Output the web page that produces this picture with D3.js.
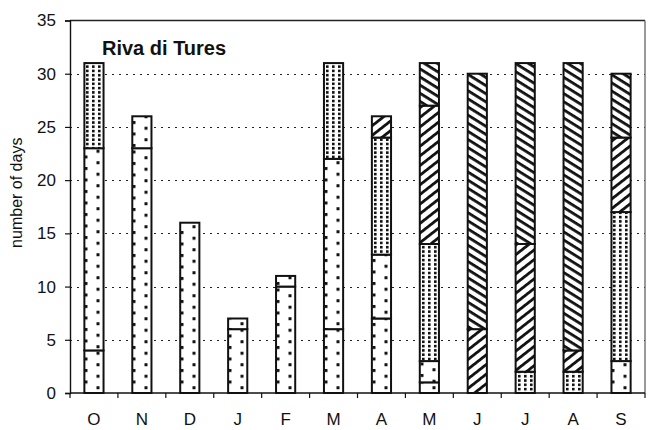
<!DOCTYPE html>
<html>
<head>
<meta charset="utf-8">
<script src="https://cdn.jsdelivr.net/npm/d3@7"></script>
<style>
  html, body { margin: 0; padding: 0; background: #fff; }
  svg { display: block; font-family: "Liberation Sans", Arial, sans-serif; }
</style>
</head>
<body>
<svg id="chart" width="658" height="430"></svg>
<script>
// Months of the hydrological year, October to September
const months = ["O", "N", "D", "J", "F", "M", "A", "M", "J", "J", "A", "S"];

// Number of days per month in each class, stacked from the bottom up
const class1 = [4, 23, 16, 6, 10, 6, 7, 1, 0, 0, 0, 3];
const class2 = [19, 3, 0, 1, 1, 16, 6, 2, 0, 0, 0, 0];
const class3 = [8, 0, 0, 0, 0, 9, 11, 11, 0, 2, 2, 14];
const class4 = [0, 0, 0, 0, 0, 0, 2, 13, 6, 12, 2, 7];
const class5 = [0, 0, 0, 0, 0, 0, 0, 4, 24, 17, 27, 6];

const yTicks = [0, 5, 10, 15, 20, 25, 30, 35];
const title = "Riva di Tures";
const yLabel = "number of days";

const seriesKeys = ["class1", "class2", "class3", "class4", "class5"];
const seriesData = [class1, class2, class3, class4, class5];
const rows = months.map((m, i) => {
  const r = { idx: i, month: m };
  seriesKeys.forEach((k, j) => { r[k] = seriesData[j][i]; });
  return r;
});

const svg = d3.select("#chart");
const margin = { left: 70, right: 13, top: 20.5, bottom: 37 };
const W = 658, H = 430;
const x0 = margin.left, x1 = W - margin.right;
const y0 = H - margin.bottom, y1 = margin.top;

const x = d3.scaleBand()
  .domain(d3.range(months.length))
  .range([x0, x1])
  .paddingInner(0.6)
  .paddingOuter(0.3);

const y = d3.scaleLinear().domain([0, 35]).range([y0, y1]);

const stack = d3.stack().keys(seriesKeys)(rows);

const defs = svg.append("defs");

// Fill pattern builders, each anchored at the left edge of its bar
function sparseDots(id, bx, step, phase) {
  const p = defs.append("pattern").attr("id", id)
    .attr("patternUnits", "userSpaceOnUse")
    .attr("x", Math.round(bx)).attr("y", phase)
    .attr("width", 24).attr("height", step);
  p.append("rect").attr("width", 24).attr("height", step).attr("fill", "#fff");
  p.append("rect").attr("x", 0.5).attr("y", 1).attr("width", 3).attr("height", 3).attr("fill", "#111");
  p.append("rect").attr("x", 12.5).attr("y", 1 + step / 2).attr("width", 3).attr("height", 3).attr("fill", "#111");
}
function denseDots(id, bx) {
  const p = defs.append("pattern").attr("id", id)
    .attr("patternUnits", "userSpaceOnUse")
    .attr("x", Math.round(bx)).attr("y", 0)
    .attr("width", 6).attr("height", 4.3);
  p.append("rect").attr("width", 6).attr("height", 4.3).attr("fill", "#fff");
  p.append("rect").attr("x", 2).attr("y", 0.8).attr("width", 2.6).attr("height", 2.6).attr("fill", "#111");
}
function hatch(id, angle, spacing, thick) {
  const p = defs.append("pattern").attr("id", id)
    .attr("patternUnits", "userSpaceOnUse")
    .attr("width", 12).attr("height", spacing)
    .attr("patternTransform", `rotate(${angle})`);
  p.append("rect").attr("width", 12).attr("height", spacing).attr("fill", "#fff");
  p.append("rect").attr("y", 0).attr("width", 12).attr("height", thick).attr("fill", "#111");
}
hatch("hatch-up", -38, 7.6, 2.8);
hatch("hatch-down", 32, 6.9, 2.8);

function fillFor(k, i) {
  const bx = x(i);
  if (k === 0) { const id = `sp1-${i}`; sparseDots(id, bx, 11.5, 0); return `url(#${id})`; }
  if (k === 1) { const id = `sp2-${i}`; sparseDots(id, bx, 11.5, 5); return `url(#${id})`; }
  if (k === 2) { const id = `dn-${i}`; denseDots(id, bx); return `url(#${id})`; }
  if (k === 3) return "url(#hatch-up)";
  return "url(#hatch-down)";
}

// Dotted horizontal gridlines
svg.append("g").selectAll("line")
  .data(yTicks.filter(t => t > 0 && t < 35))
  .join("line")
  .attr("x1", x0).attr("x2", x1)
  .attr("y1", d => Math.round(y(d)) + 0.5).attr("y2", d => Math.round(y(d)) + 0.5)
  .attr("stroke", "#222").attr("stroke-width", 1)
  .attr("stroke-dasharray", "2,5");

// Plot frame: top and right edges
svg.append("line").attr("x1", x0).attr("x2", x1).attr("y1", y1).attr("y2", y1)
  .attr("stroke", "#222").attr("stroke-width", 1.5);
svg.append("line").attr("x1", x1).attr("x2", x1).attr("y1", y1).attr("y2", y0)
  .attr("stroke", "#555").attr("stroke-width", 1.2);

// Stacked bar segments
const gBars = svg.append("g");
stack.forEach((layer, k) => {
  layer.forEach((seg, i) => {
    if (seg[1] - seg[0] <= 0) return;
    gBars.append("rect")
      .attr("x", x(i))
      .attr("y", y(seg[1]))
      .attr("width", x.bandwidth())
      .attr("height", y(seg[0]) - y(seg[1]))
      .attr("fill", fillFor(k, i))
      .attr("stroke", "#111")
      .attr("stroke-width", 2);
  });
});

// Y axis
const yAxis = d3.axisLeft(y).tickValues(yTicks).tickSize(5).tickPadding(9);
const gy = svg.append("g").attr("transform", `translate(${x0},0)`).call(yAxis);
gy.select(".domain").attr("stroke", "#111").attr("stroke-width", 1.4);
gy.selectAll(".tick line").attr("stroke", "#111").attr("stroke-width", 1.2);
gy.selectAll("text").attr("font-size", 17).attr("fill", "#111")
  .attr("font-family", "Liberation Sans, Arial, sans-serif");

// X axis with ticks at the category boundaries
svg.append("line").attr("x1", x0).attr("x2", x1).attr("y1", y0).attr("y2", y0)
  .attr("stroke", "#111").attr("stroke-width", 1.4);
const step = x.step();
const boundaries = d3.range(months.length + 1).map(i => x0 + i * step);
svg.append("g").selectAll("line").data(boundaries).join("line")
  .attr("x1", d => d).attr("x2", d => d)
  .attr("y1", y0).attr("y2", y0 + 5)
  .attr("stroke", "#111").attr("stroke-width", 1.2);
svg.append("g").selectAll("text").data(months).join("text")
  .attr("x", (d, i) => x(i) + x.bandwidth() / 2)
  .attr("y", y0 + 32)
  .attr("text-anchor", "middle")
  .attr("font-size", 17).attr("fill", "#111")
  .text(d => d);

// Y axis title
svg.append("text")
  .attr("transform", `translate(22,${(y0 + y1) / 2 - 14}) rotate(-90)`)
  .attr("text-anchor", "middle")
  .attr("font-size", 16).attr("fill", "#111")
  .text(yLabel);

// Station name
svg.append("text")
  .attr("x", 102).attr("y", 55)
  .attr("font-size", 20).attr("font-weight", "bold").attr("fill", "#111")
  .text(title);
</script>
</body>
</html>
